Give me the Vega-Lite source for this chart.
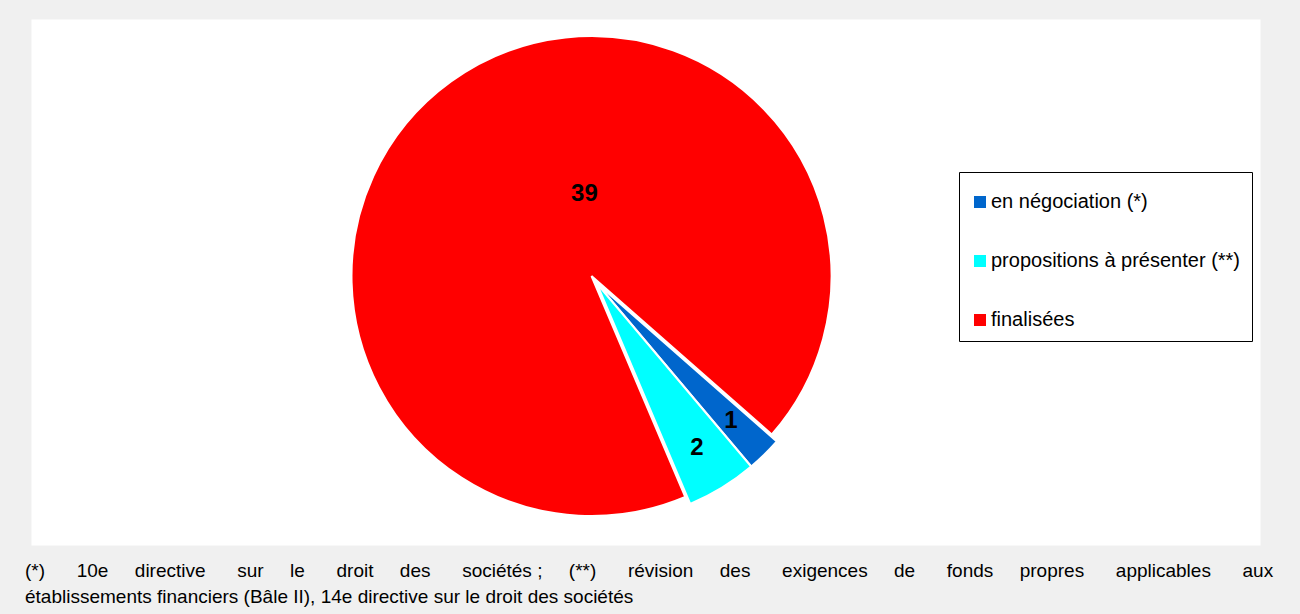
{
  "$schema": "https://vega.github.io/schema/vega-lite/v6.json",
  "width": 1229,
  "height": 526,
  "autosize": {"type": "none"},
  "padding": {"left": 31, "top": 19, "right": 40, "bottom": 69},
  "background": "#f0f0f0",
  "view": {"fill": "#ffffff", "stroke": "transparent"},
  "title": {
    "text": [
      "(*) \u00a0\u00a0\u00a0\u00a0\u00a010e \u00a0\u00a0\u00a0\u00a0directive \u00a0\u00a0\u00a0\u00a0\u00a0sur \u00a0\u00a0\u00a0\u00a0le \u00a0\u00a0\u00a0\u00a0\u00a0droit \u00a0\u00a0\u00a0\u00a0des \u00a0\u00a0\u00a0\u00a0\u00a0sociétés ; \u00a0\u00a0\u00a0\u00a0(**) \u00a0\u00a0\u00a0\u00a0\u00a0révision \u00a0\u00a0\u00a0\u00a0des \u00a0\u00a0\u00a0\u00a0\u00a0exigences \u00a0\u00a0\u00a0\u00a0de \u00a0\u00a0\u00a0\u00a0\u00a0fonds \u00a0\u00a0\u00a0\u00a0propres \u00a0\u00a0\u00a0\u00a0\u00a0applicables \u00a0\u00a0\u00a0\u00a0\u00a0aux",
      "établissements financiers (Bâle II), 14e directive sur le droit des sociétés"
    ],
    "orient": "bottom",
    "anchor": "start",
    "frame": "group",
    "font": "Liberation Sans",
    "fontSize": 19,
    "fontWeight": "normal",
    "color": "black",
    "lineHeight": 26,
    "offset": 17,
    "dx": -6
  },
  "data": {
    "values": [
      {"category": "en négociation (*)", "value": 1, "order": 1},
      {"category": "propositions à présenter (**)", "value": 2, "order": 2},
      {"category": "finalisées", "value": 39, "order": 3}
    ]
  },
  "layer": [
    {
      "mark": {
        "type": "arc",
        "outerRadius": 240,
        "stroke": "white",
        "strokeWidth": 2,
        "xOffset": {"expr": "datum.order === 3 ? -54 : -49"},
        "yOffset": {"expr": "datum.order === 3 ? -6 : 1"}
      },
      "encoding": {
        "theta": {"field": "value", "type": "quantitative", "stack": true, "scale": {"range": [2.2916, 8.5748]}},
        "order": {"field": "order", "type": "quantitative"},
        "color": {
          "field": "category",
          "type": "nominal",
          "scale": {
            "domain": ["en négociation (*)", "propositions à présenter (**)", "finalisées"],
            "range": ["#0066CC", "#00FFFF", "#FF0000"]
          },
          "legend": {
            "orient": "none",
            "legendX": 928,
            "legendY": 153,
            "title": " ",
            "titleFontSize": 6,
            "titlePadding": 3,
            "strokeColor": "black",
            "fillColor": "white",
            "padding": 11,
            "symbolType": "square",
            "symbolSize": 144,
            "symbolStrokeWidth": 0,
            "symbolOpacity": 1,
            "labelFont": "Liberation Sans",
            "labelFontSize": 20,
            "labelColor": "black",
            "labelOffset": 1,
            "labelLimit": 400,
            "rowPadding": 39
          }
        }
      }
    },
    {
      "mark": {
        "type": "text",
        "radius": 192,
        "font": "Liberation Sans",
        "fontSize": 24,
        "fontWeight": "bold",
        "color": "black",
        "xOffset": {"expr": "datum.order === 3 ? -54 : -49"},
        "yOffset": {"expr": "datum.order === 3 ? -6 : 2"},
        "thetaOffset": {"expr": "datum.order === 3 ? 0.539 : 0"},
        "radiusOffset": {"expr": "datum.order === 3 ? -110 : 0"}
      },
      "encoding": {
        "theta": {"field": "value", "type": "quantitative", "stack": true},
        "order": {"field": "order", "type": "quantitative"},
        "text": {"field": "value", "type": "quantitative"}
      }
    }
  ]
}
